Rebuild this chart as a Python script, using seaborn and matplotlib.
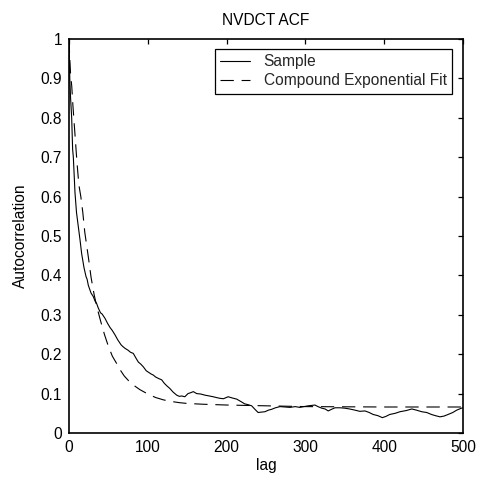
import matplotlib
matplotlib.use("Agg")
import matplotlib.pyplot as plt
import seaborn as sns
import pandas as pd

# ---- data ----
sample_lag = [0, 0.5, 1, 2, 3.4, 4.6, 5.5, 7.6, 9.5, 11.8, 14, 16, 19, 21.6, 23, 24.5,
              26.6, 28, 30.9, 33, 35, 37, 40, 42, 45.7, 49, 52, 55, 58.4, 62, 66, 68,
              71, 75, 78, 81.6, 85, 88, 91, 94.3, 98, 101, 104, 107, 110, 114, 117.6,
              121, 124, 128, 132, 136.7, 140, 143, 147, 151, 154, 157.8, 162, 167,
              172.6, 178, 183, 187, 191.6, 196, 202, 207, 212.8, 218, 223, 227, 231.8,
              236, 240, 244, 248.7, 253, 257, 262, 267.8, 274, 280.5, 287, 293, 298,
              303.7, 308, 312, 316, 320.7, 325, 329, 333, 337.6, 344, 350, 356, 363,
              369, 375.6, 381, 386, 392, 397.6, 402, 407, 414, 420, 428, 435, 441,
              447.6, 454, 460, 465, 470.8, 476, 481, 487, 492, 498, 500]
sample_acf = [1.0, 0.95, 0.9, 0.85, 0.80, 0.72, 0.70, 0.61, 0.56, 0.524, 0.49, 0.456,
              0.42, 0.397, 0.39, 0.375, 0.363, 0.355, 0.346, 0.335, 0.329, 0.318, 0.305,
              0.302, 0.291, 0.278, 0.268, 0.26, 0.249, 0.236, 0.224, 0.22, 0.215, 0.21,
              0.205, 0.202, 0.19, 0.18, 0.175, 0.168, 0.158, 0.154, 0.15, 0.147, 0.142,
              0.138, 0.135, 0.126, 0.12, 0.113, 0.104, 0.096, 0.093, 0.094, 0.092, 0.1,
              0.102, 0.105, 0.1, 0.099, 0.096, 0.094, 0.092, 0.09, 0.088, 0.087, 0.092,
              0.089, 0.086, 0.08, 0.074, 0.072, 0.069, 0.06, 0.052, 0.053, 0.054, 0.058,
              0.06, 0.064, 0.067, 0.066, 0.065, 0.067, 0.065, 0.067, 0.069, 0.07, 0.071,
              0.067, 0.063, 0.061, 0.056, 0.06, 0.064, 0.064, 0.063, 0.061, 0.058, 0.055,
              0.056, 0.052, 0.047, 0.044, 0.039, 0.042, 0.047, 0.05, 0.054, 0.057, 0.061,
              0.058, 0.054, 0.052, 0.047, 0.044, 0.041, 0.043, 0.047, 0.052, 0.058,
              0.063, 0.064]

fit_lag = [0, 1, 2, 3.5, 5, 7.5, 10, 12.5, 15, 17.5, 20, 22.5, 25, 28, 32, 36, 40, 45,
           50, 55, 60, 65, 70, 75, 80, 90, 100, 110, 120, 130, 140, 150, 170, 200, 250,
           300, 400, 500]
fit_acf = [1.0, 0.95, 0.91, 0.88, 0.83, 0.76, 0.69, 0.63, 0.60, 0.56, 0.51, 0.475, 0.44,
           0.395, 0.35, 0.315, 0.285, 0.25, 0.22, 0.195, 0.178, 0.16, 0.145, 0.134,
           0.124, 0.11, 0.099, 0.09, 0.084, 0.08, 0.077, 0.075, 0.073, 0.071, 0.069,
           0.067, 0.066, 0.066]

series_labels = ["Sample", "Compound Exponential Fit"]
title_text = "NVDCT ACF"
x_label = "lag"
y_label = "Autocorrelation"
x_ticks = [0, 100, 200, 300, 400, 500]
y_ticks = [0, 0.1, 0.2, 0.3, 0.4, 0.5, 0.6, 0.7, 0.8, 0.9, 1]
y_tick_labels = ["0", "0.1", "0.2", "0.3", "0.4", "0.5", "0.6", "0.7", "0.8", "0.9", "1"]

sample_df = pd.DataFrame({"lag": sample_lag, "acf": sample_acf})
fit_df = pd.DataFrame({"lag": fit_lag, "acf": fit_acf})

sns.set_theme(style="white")
plt.rcParams["font.family"] = ["Liberation Sans", "DejaVu Sans"]
fs = 11.2

fig = plt.figure(figsize=(4.81, 4.82), dpi=100)
ax = fig.add_axes([69 / 481, 49 / 482, 394 / 481, 394 / 482])

sns.lineplot(data=sample_df, x="lag", y="acf", ax=ax, color="black", linewidth=0.8,
             label=series_labels[0])
sns.lineplot(data=fit_df, x="lag", y="acf", ax=ax, color="black", linewidth=0.8,
             linestyle=(0, (12, 7)), label=series_labels[1])

ax.set_xlim(0, 500)
ax.set_ylim(0, 1)
ax.set_xticks(x_ticks)
ax.set_xticklabels([str(t) for t in x_ticks])
ax.set_yticks(y_ticks)
ax.set_yticklabels(y_tick_labels)
ax.tick_params(direction="in", length=3.5, width=0.9, colors="black", labelsize=fs,
               top=True, right=True, pad=5)
for s in ax.spines.values():
    s.set_color("black")
    s.set_linewidth(1.2)

ax.set_title(title_text, fontsize=fs, pad=10, color="black")
ax.set_xlabel(x_label, fontsize=fs, labelpad=2, color="black")
ax.set_ylabel(y_label, fontsize=fs, labelpad=9, color="black")

leg = ax.legend(loc="upper right", bbox_to_anchor=((452 - 69) / 394, (433 - 49) / 394),
                borderaxespad=0, fontsize=fs, frameon=True, fancybox=False,
                edgecolor="black", framealpha=1, handlelength=1.9, handletextpad=0.9,
                labelspacing=0.25, borderpad=0.35)
leg.get_frame().set_linewidth(0.9)

fig.savefig("out.png", dpi=100)
